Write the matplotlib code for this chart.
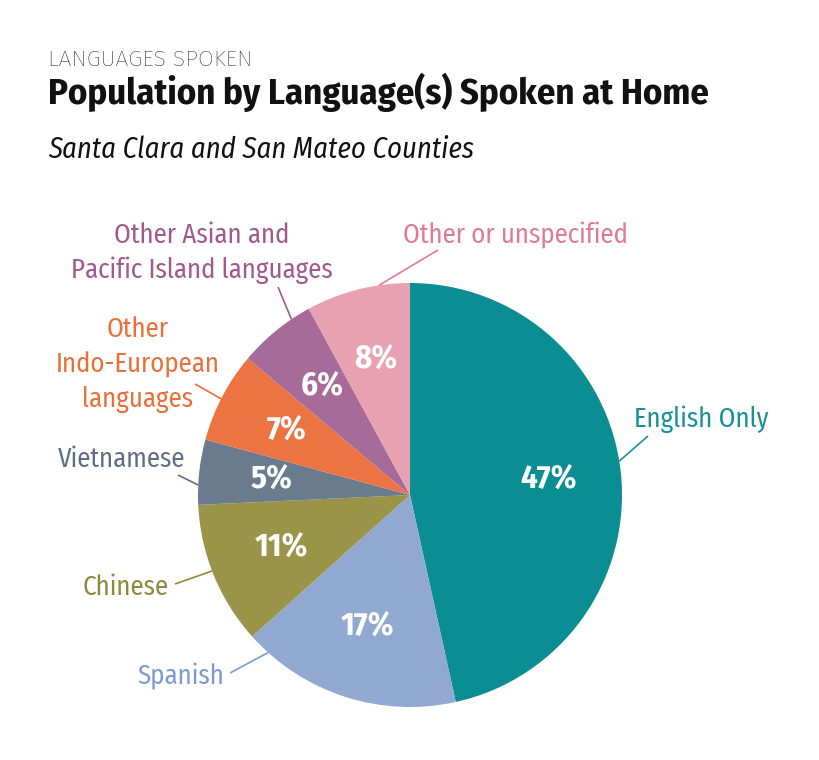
import matplotlib
matplotlib.use("Agg")
import numpy as np
import matplotlib.pyplot as plt

plt.rcParams['font.family'] = ['Fira Sans Condensed', 'DejaVu Sans']

# data
languages = ["English Only", "Spanish", "Chinese", "Vietnamese",
             "Other\nIndo-European\nlanguages",
             "Other Asian and\nPacific Island languages",
             "Other or unspecified"]
shares = [47, 17, 11, 5, 7, 6, 8]
pct_labels = ["47%", "17%", "11%", "5%", "7%", "6%", "8%"]

wedge_colors = ['#0a8e93', '#91a9d1', '#9a9449', '#6b7b8e', '#ec7442', '#a66b98', '#e8a1b0']
text_colors = ['#17909a', '#7b9ad2', '#8e8a3b', '#5f6e86', '#ea6f38', '#a2598f', '#e27a93']

W, H = 820, 760
fig = plt.figure(figsize=(W / 100, H / 100), dpi=100)
ax = fig.add_axes([0, 0, 1, 1])

cx, cy, r = 410, H - 495, 212
wedges, _ = ax.pie(shares, colors=wedge_colors, startangle=90, counterclock=False,
                   center=(cx, cy), radius=r, wedgeprops=dict(linewidth=0))
ax.set_xlim(0, W)
ax.set_ylim(0, H)
ax.set_aspect('equal')
ax.axis('off')

# percentages inside wedges
for w, lab in zip(wedges, pct_labels):
    ang = np.deg2rad((w.theta1 + w.theta2) / 2)
    ax.text(cx + 0.655 * r * np.cos(ang), cy + 0.655 * r * np.sin(ang), lab,
            ha='center', va='center', color='white', fontsize=23.5, fontweight='bold')

# outside labels: (text x, first baseline y, ha, leader angle, leader end x, y)
label_layout = [
    (634, 427, 'left', 9.2, 648, 436),
    (137, 684, 'left', 228, 230, 673),
    (83, 595, 'left', 201, 175, 584),
    (58, 467, 'left', 177.3, 178, 475),
    (138, 337, 'center', 153, 195, 384),
    (202, 243, 'center', 124, 278, 287),
    (403, 243, 'left', 98.4, 438, 250),
]
for name, col, (tx, ty, ha, a, ex, ey) in zip(languages, text_colors, label_layout):
    for i, line in enumerate(name.split('\n')):
        ax.text(tx, H - (ty + i * 35), line, ha=ha, va='baseline',
                color=col, fontsize=19.3)
    t = np.deg2rad(a)
    ax.plot([cx + r * np.cos(t), ex], [cy + r * np.sin(t), H - ey],
            color=col, linewidth=1.2, solid_capstyle='butt')

# titles
fig.text(48 / W, 1 - 66 / H, "LANGUAGES SPOKEN", fontsize=16.6, fontweight='light',
         family=['Fira Sans', 'DejaVu Sans'], color='#111111', va='baseline')
fig.text(48 / W, 1 - 104 / H, "Population by Language(s) Spoken at Home",
         fontsize=26.4, fontweight='bold', color='#111111', va='baseline')
fig.text(48 / W, 1 - 158 / H, "Santa Clara and San Mateo Counties",
         fontsize=20.6, fontstyle='italic', color='#111111', va='baseline')

fig.savefig("out.png", dpi=100, facecolor='white')
